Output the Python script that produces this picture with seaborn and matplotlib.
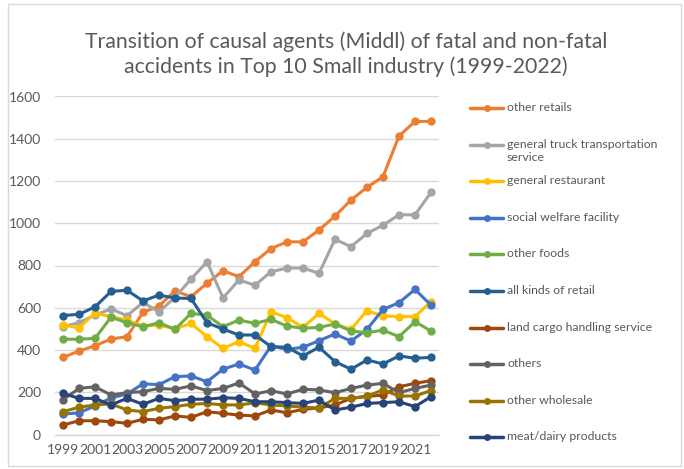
import numpy as np
import pandas as pd
import matplotlib
matplotlib.use('Agg')
import matplotlib.pyplot as plt
from matplotlib.lines import Line2D
from matplotlib.patches import Rectangle
import seaborn as sns

years = list(range(1999, 2023))

other_retails = [365, 395, 420, 452, 463, 578, 608, 680, 652, 716, 775, 747, 818, 880, 912, 912, 968, 1034, 1110, 1170, 1220, 1413, 1482, 1482]
general_truck = [510, 530, 565, 595, 562, 625, 580, 650, 735, 818, 647, 731, 707, 770, 788, 788, 763, 924, 889, 952, 991, 1040, 1040, 1146]
general_restaurant = [518, 505, 575, 558, 542, 513, 518, 500, 526, 463, 408, 439, 408, 581, 553, 507, 573, 524, 498, 586, 561, 558, 558, 629]
social_welfare = [96, 103, 135, 173, 192, 240, 236, 274, 277, 250, 309, 334, 305, 419, 403, 413, 444, 476, 442, 498, 592, 624, 687, 612]
other_foods = [451, 451, 455, 555, 529, 510, 529, 498, 573, 565, 510, 542, 526, 545, 513, 503, 507, 523, 490, 482, 494, 463, 534, 490]
all_kinds_retail = [563, 569, 604, 677, 683, 632, 660, 646, 644, 529, 499, 471, 471, 416, 413, 372, 413, 345, 309, 353, 334, 372, 361, 365]
land_cargo = [45, 65, 65, 61, 53, 72, 69, 88, 81, 108, 100, 92, 88, 116, 103, 119, 126, 140, 171, 180, 187, 226, 242, 255]
others = [165, 218, 226, 187, 198, 203, 218, 214, 230, 208, 218, 244, 192, 207, 192, 214, 211, 198, 218, 234, 242, 198, 218, 234]
other_wholesale = [108, 129, 140, 145, 116, 108, 124, 132, 143, 147, 140, 140, 150, 140, 135, 130, 125, 171, 171, 182, 211, 182, 182, 208]
meat_dairy = [195, 171, 171, 140, 171, 143, 171, 160, 167, 167, 174, 171, 155, 155, 151, 147, 163, 116, 129, 147, 151, 155, 132, 179]

series_names = ['other retails', 'general truck transportation service', 'general restaurant',
                'social welfare facility', 'other foods', 'all kinds of retail',
                'land cargo handling service', 'others', 'other wholesale', 'meat/dairy products']
series_values = [other_retails, general_truck, general_restaurant, social_welfare, other_foods,
                 all_kinds_retail, land_cargo, others, other_wholesale, meat_dairy]
colors = ['#ED7D31', '#A5A5A5', '#FFC000', '#4472C4', '#70AD47',
          '#255E91', '#9E480E', '#636363', '#997300', '#264478']

rows = []
for name, vals in zip(series_names, series_values):
    for yr, v in zip(years, vals):
        rows.append({'year': yr, 'count': v, 'series': name})
df = pd.DataFrame(rows)

sns.set_theme(style='white')
plt.rcParams['font.family'] = ['Lato', 'DejaVu Sans']
text_color = '#595959'
grid_color = '#D9D9D9'

W, H = 684, 469
fig = plt.figure(figsize=(W / 100, H / 100), dpi=100)
ax = fig.add_axes([55 / W, 34.5 / H, 384 / W, 338 / H])

sns.lineplot(data=df, x='year', y='count', hue='series', hue_order=series_names,
             palette=colors, marker='o', markersize=6, markeredgewidth=0,
             linewidth=2.2, legend=False, ax=ax)

ax.set_xlim(1998.5, 2022.5)
ax.set_ylim(0, 1600)
ax.set_yticks(range(0, 1601, 200))
ax.set_xticks(years[::2])
ax.set_xticklabels([str(y) for y in years[::2]])
ax.yaxis.grid(True, color=grid_color, linewidth=1)
ax.set_axisbelow(True)
for s in ['top', 'right', 'left']:
    ax.spines[s].set_visible(False)
ax.spines['bottom'].set_color(grid_color)
ax.spines['bottom'].set_linewidth(1)
ax.tick_params(axis='both', length=0, labelsize=10, colors=text_color, pad=7)
ax.tick_params(axis='y', pad=10)
ax.set_xlabel('')
ax.set_ylabel('')

fig.text(346 / W, 1 - 54 / H,
         'Transition of causal agents (Middl) of fatal and non-fatal\naccidents in Top 10 Small industry (1999-2022)',
         ha='center', va='center', fontsize=15.3, color=text_color, linespacing=1.25)

# legend drawn by hand to mimic the spreadsheet layout
for i, (name, col) in enumerate(zip(series_names, colors)):
    yp = 1 - (108 + 36.6 * i) / H
    fig.add_artist(Line2D([470 / W, 503 / W], [yp, yp], color=col, linewidth=2.5,
                          transform=fig.transFigure))
    fig.add_artist(Line2D([486.5 / W], [yp], color=col, marker='o', markersize=5,
                          markeredgewidth=0, transform=fig.transFigure))
    label = 'general truck transportation\nservice' if name.startswith('general truck') else name
    fig.text(507 / W, yp + 6 / H, label, ha='left', va='top', fontsize=8.8,
             color=text_color, linespacing=1.3)

fig.add_artist(Rectangle((8 / W, 3 / H), 673 / W, 462 / H, fill=False,
                         edgecolor=grid_color, linewidth=1, transform=fig.transFigure))

fig.savefig('out.png', dpi=100)
